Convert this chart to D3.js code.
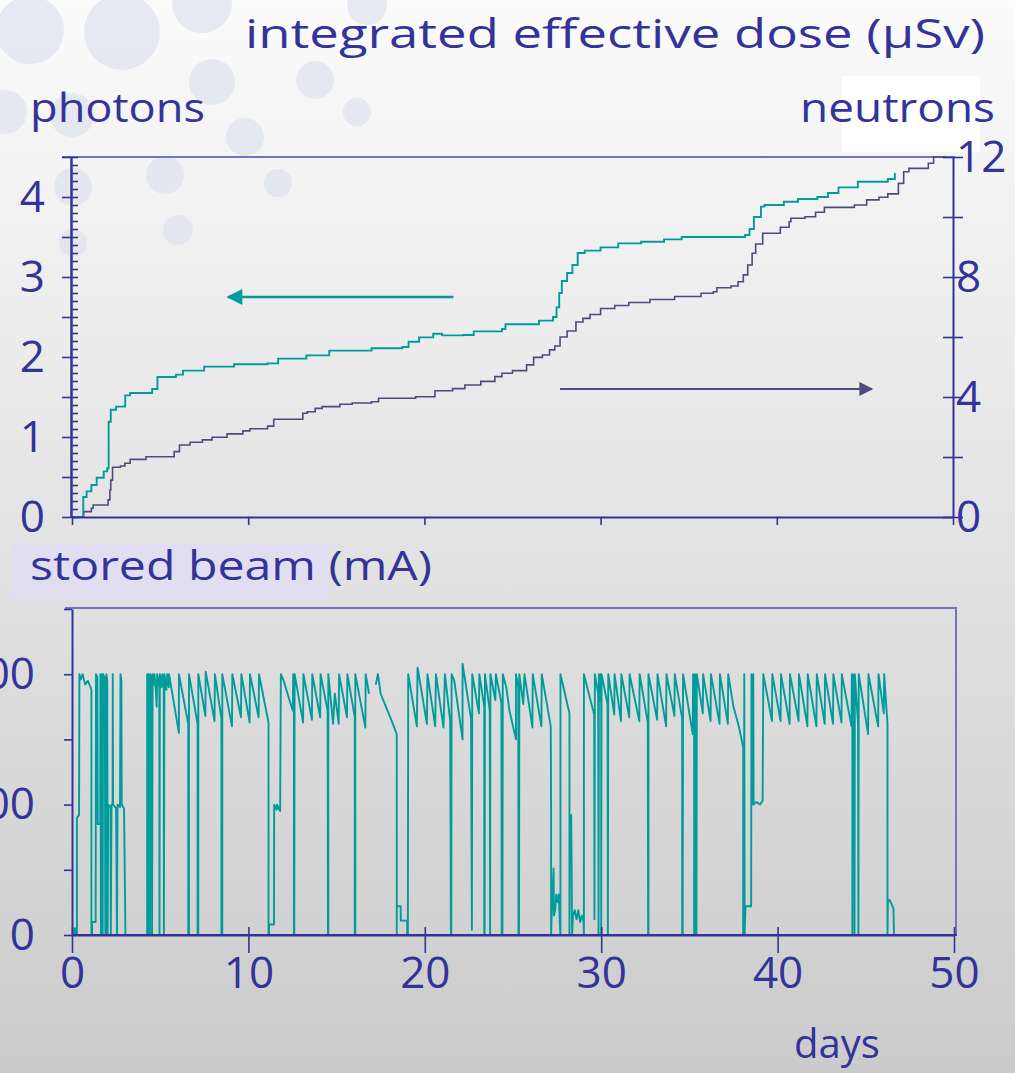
<!DOCTYPE html>
<html><head><meta charset="utf-8">
<script src="https://cdn.jsdelivr.net/npm/d3@7"></script>
<style>
html,body{margin:0;padding:0;background:#fff;}
svg{display:block;}
text{font-family:"Comic Sans MS","Open Sans","DejaVu Sans",sans-serif;fill:#333399;}
</style></head>
<body><svg id="c" width="1015" height="1073"></svg>
<script>
// ---------- data ----------
const dayTicks = [0,10,20,30,40,50];
const photonTicks = [0,1,2,3,4];
const neutronTicks = [0,4,8,12];
const beamTicks = [0,100,200];

// integrated photon dose (uSv) vs day
const photonDose = [[0,0],[0.57,0],[0.64,0.25],[0.83,0.32],[1.1,0.4],[1.4,0.49],[1.8,0.57],[2.0,0.61],[2.08,1.19],[2.2,1.34],[2.5,1.38],[3.0,1.39],[3.02,1.52],[3.3,1.55],[4.5,1.55],[4.55,1.6],[4.8,1.6],[4.85,1.75],[5.9,1.78],[6.3,1.83],[7.5,1.88],[9.2,1.91],[11.1,1.92],[11.7,1.98],[13.3,2.02],[14.6,2.08],[17.0,2.11],[18.75,2.125],[19.1,2.19],[19.7,2.245],[20.5,2.29],[21.0,2.27],[22.2,2.275],[22.8,2.32],[24.4,2.35],[24.6,2.41],[26.5,2.455],[27.3,2.5],[27.5,2.62],[27.65,2.8],[27.8,2.95],[28.1,3.05],[28.4,3.15],[28.7,3.3],[29.1,3.33],[30.0,3.37],[31.0,3.42],[32.3,3.44],[33.6,3.47],[34.6,3.5],[38.2,3.525],[38.45,3.6],[38.7,3.75],[39.1,3.88],[39.3,3.9],[40.4,3.94],[41.2,3.975],[42.3,4.0],[42.9,4.05],[43.5,4.12],[44.6,4.19],[45.5,4.19],[46.3,4.225],[46.7,4.30]];

// integrated neutron dose (uSv) vs day
const neutronDose = [[0,0],[0.38,0],[0.66,0.18],[1.1,0.29],[1.2,0.4],[2.05,0.57],[2.15,0.9],[2.2,1.23],[2.3,1.66],[2.75,1.7],[3.0,1.79],[3.3,1.92],[4.2,2.01],[5.8,2.18],[6.1,2.4],[6.7,2.49],[7.4,2.57],[7.95,2.66],[8.8,2.77],[9.7,2.87],[10.1,2.94],[11.1,3.03],[11.45,3.26],[13.1,3.46],[13.35,3.51],[13.8,3.62],[14.2,3.68],[15.2,3.76],[15.9,3.8],[17.0,3.84],[17.4,3.96],[19.5,4.01],[20.6,4.21],[21.6,4.28],[22.3,4.4],[23.2,4.52],[24.0,4.68],[24.4,4.79],[25.0,4.88],[25.8,5.07],[26.2,5.32],[26.7,5.4],[27.1,5.57],[27.4,5.7],[27.7,6.0],[28.1,6.2],[28.6,6.5],[29.0,6.62],[29.4,6.75],[30.0,6.95],[30.8,7.05],[31.6,7.15],[32.8,7.25],[34.2,7.35],[35.7,7.46],[36.4,7.51],[36.6,7.64],[37.4,7.7],[37.8,7.84],[38.1,8.07],[38.35,8.4],[38.6,8.79],[38.8,9.1],[39.2,9.46],[40.2,9.66],[40.7,9.84],[40.8,9.96],[41.6,10.01],[42.2,10.16],[42.7,10.32],[44.4,10.4],[45.1,10.57],[45.8,10.66],[46.3,10.77],[46.9,11.12],[47.2,11.51],[47.5,11.62],[48.6,11.79],[48.9,12.0],[49.5,12.1]];

// stored beam current (mA) vs day; null = no data
const beamCurrent = [[0,0],[0.15,0],[0.15,5],[0.2,5],[0.2,0],[0.28,0],[0.28,90],[0.4,92],[0.42,200],[0.5,196],[0.6,200],[0.75,192],[0.9,195],[1.05,190],[1.1,188],[1.1,0],[1.14,0],[1.14,10],[1.34,10],[1.36,200],[1.44,198],[1.46,85],[1.6,85],[1.61,200],[1.64,0],[1.68,200],[1.72,198],[1.74,0],[1.76,200],[1.86,197],[1.89,0],[1.93,0],[1.95,200],[2.0,195],[2.02,0],[2.05,100],[2.18,98],[2.2,0],[2.24,100],[2.3,100],[2.31,200],[2.33,100],[2.5,97],[2.55,0],[2.58,100],[2.72,98],[2.75,200],[2.8,195],[2.82,100],[2.95,97],[3.03,0],
[4.26,0],[4.26,200],[4.3,196],[4.3,0],[4.34,0],[4.34,200],[4.4,198],[4.42,0],[4.45,200],[4.52,195],[4.54,0],[4.57,200],[4.65,192],[4.68,200],[4.75,188],[4.8,175],[4.83,200],[4.95,190],[4.96,0],[4.98,200],[5.08,190],[5.12,200],[5.2,190],[5.21,0],[5.24,200],[5.35,188],[5.4,200],[5.49,190],[5.5,200],[6.06,155],
[6.06,200],[6.59,162],[6.59,0],[6.63,0],[6.63,200],[7.12,162],[7.12,0],[7.16,0],[7.16,200],[7.56,168],[7.58,202],[8.08,164],[8.1,200],[8.47,166],[8.47,0],[8.52,0],[8.52,200],[9.07,160],[9.09,200],[9.58,167],[9.6,200],[10.07,163],[10.09,200],[10.58,167],[10.6,200],[11.14,163],[11.14,0],[11.17,0],[11.17,8],[11.45,8],[11.46,100],[11.6,96],[11.62,100],[11.8,95],[11.84,200],[12.0,195],[12.4,177],[12.52,172],[12.54,200],[12.58,198],[12.58,0],[12.6,0],[12.62,200],[13.1,163],[13.12,200],[13.6,165],[13.62,200],[14.07,167],[14.09,200],[14.49,172],[14.51,0],[14.53,0],[14.53,200],[14.8,162],[14.9,185],[15.12,162],[15.14,200],[15.59,167],[15.61,200],[16.03,167],[16.03,0],[16.06,0],[16.06,200],[16.63,159],[16.65,200],[16.84,185],null,
[17.22,192],[17.34,200],[17.5,185],[17.8,175],[18.1,165],[18.41,154],[18.41,0],[18.41,22],[18.63,22],[18.64,11],[19.0,11],[19.0,0],[19.04,0],[19.06,200],[19.55,160],[19.59,205],[20.12,162],[20.15,200],[20.59,160],[20.63,200],[21.06,159],[21.14,200],[21.44,164],[21.48,0],[21.5,0],[21.52,200],[21.67,195],[22.14,150],[22.14,208],[22.62,166],[22.67,4],[22.69,200],[23.07,170],[23.09,200],[23.37,175],[23.37,0],[23.39,0],[23.41,200],[23.68,172],[23.7,0],[23.72,200],[24.0,180],[24.03,200],[24.34,178],[24.36,0],[24.4,0],[24.42,200],[24.62,190],[24.8,172],[25.17,150],[25.17,200],[25.3,190],[25.31,0],[25.34,0],[25.36,200],[25.58,177],[25.65,200],[26.1,159],[26.12,200],[26.61,160],[26.63,200],[27.14,160],[27.16,95],[27.16,0],[27.2,18],[27.3,51],[27.32,15],[27.4,20],[27.45,31],[27.55,25],[27.6,31],[27.65,10],[27.69,0],[27.69,200],[28.2,170],[28.2,0],[28.22,92],[28.27,67],[28.3,92],[28.35,0],[28.4,15],[28.5,19],[28.6,12],[28.7,19],[28.8,10],[28.9,15],[29.0,10],[29.02,0],[29.02,200],[29.6,169],[29.62,12],[29.64,200],[29.83,185],[29.85,0],[29.87,200],[29.95,179],[29.97,200],[30.0,198],[30.0,0],[30.02,200],[30.36,177],[30.38,0],[30.4,200],[30.74,169],[30.76,200],[31.12,164],[31.14,200],[31.59,167],[31.61,200],[32.16,164],[32.18,200],[32.64,163],[32.66,0],[32.68,0],[32.68,200],[33.17,165],[33.19,200],[33.68,160],[33.7,200],[34.15,168],[34.17,200],[34.59,166],[34.59,0],[34.62,0],[34.64,200],[35.19,154],[35.21,200],[35.27,195],[35.27,0],[35.3,0],[35.32,200],[35.4,192],[35.4,0],[35.42,200],[35.76,170],[35.78,200],[36.2,164],[36.22,200],[36.71,162],[36.73,200],[37.18,162],[37.2,200],[37.5,175],[37.8,160],[38.05,144],[38.05,0],[38.09,0],[38.11,200],[38.13,0],[38.18,22],[38.5,22],[38.52,200],[38.54,100],[38.6,103],[38.62,200],[38.64,100],[38.8,102],[39.0,100],[39.15,103],[39.19,200],[39.68,164],[39.7,200],[40.17,164],[40.19,200],[40.68,162],[40.7,200],[41.19,164],[41.21,200],[41.69,160],[41.71,200],[42.2,160],[42.22,200],[42.67,162],[42.69,200],[43.14,162],[43.16,200],[43.62,163],[43.64,200],[44.19,160],[44.21,200],[44.24,198],[44.24,0],[44.26,200],[44.34,195],[44.36,0],[44.38,200],[44.56,162],[44.58,0],[44.6,200],[45.13,154],[45.15,200],[45.7,160],[45.72,200],[46.02,170],[46.04,200],[46.23,162],[46.23,0],[46.25,25],[46.35,27],[46.45,24],[46.57,20],[46.6,0]];

// ---------- drawing ----------
const svg = d3.select('#c');
const W = 1015, H = 1073;
const AX = '#33339a', AXL = '#7474c0', TEAL = '#009b9b', NEU = '#4c4c7c';
const FONT = '"Comic Sans MS","Open Sans",sans-serif';

const defs = svg.append('defs');
const grad = defs.append('linearGradient').attr('id','bg').attr('x1',0).attr('y1',0).attr('x2',0).attr('y2',1);
grad.append('stop').attr('offset','0%').attr('stop-color','#fbfbfb');
grad.append('stop').attr('offset','100%').attr('stop-color','#cbcbcb');
svg.append('rect').attr('width',W).attr('height',H).attr('fill','url(#bg)');

// decorative bubbles
const bubbles = [[30,30,34],[122,32,38],[202,3,30],[212,82,23],[315,80,19],[357,112,14],[245,137,19],[5,112,22],[72,115,22],[165,175,19],[278,183,14],[73,187,19],[178,230,15],[73,243,14],[367,5,20]];
svg.append('g').selectAll('circle').data(bubbles).join('circle')
  .attr('cx',d=>d[0]).attr('cy',d=>d[1]).attr('r',d=>d[2]).attr('fill','#dfe3ec').attr('opacity',0.75);

const x = d3.scaleLinear().domain([0,50]).range([72,953]);
const yP = d3.scaleLinear().domain([0,4.5]).range([517,157]);
const yN = d3.scaleLinear().domain([0,12]).range([517,157]);
const yB = d3.scaleLinear().domain([0,250]).range([935,609]);
const xB = d3.scaleLinear().domain([0,50]).range([72,954]);

// texts
svg.append('rect').attr('x',842).attr('y',76).attr('width',138).attr('height',76).attr('fill','#ffffff');
svg.append('rect').attr('x',12).attr('y',543).attr('width',317).attr('height',56).attr('fill','#e1def2');
function label(t,xx,yy,size,anchor){return svg.append('text').attr('x',xx).attr('y',yy).attr('font-size',size).attr('text-anchor',anchor||'start').text(t);}
label('integrated effective dose (\u03bcSv)',245,48,40).attr('textLength',740).attr('lengthAdjust','spacingAndGlyphs');
label('photons',30,122,40).attr('textLength',175).attr('lengthAdjust','spacingAndGlyphs');
label('neutrons',800,122,40).attr('textLength',195).attr('lengthAdjust','spacingAndGlyphs');
label('stored beam (mA)',30,580,40).attr('textLength',402).attr('lengthAdjust','spacingAndGlyphs');
label('days',837,1058,40,'middle');

// ---------- top panel ----------
const topG = svg.append('g');
defs.append('clipPath').attr('id','clipT').append('rect').attr('x',72).attr('y',156).attr('width',882).attr('height',362);
topG.append('line').attr('x1',62).attr('x2',955).attr('y1',157).attr('y2',157).attr('stroke',AXL).attr('stroke-width',2);

const lineP = d3.line().x(d=>x(d[0])).y(d=>yP(d[1])).curve(d3.curveStepAfter);
const lineN = d3.line().x(d=>x(d[0])).y(d=>yN(d[1])).curve(d3.curveStepAfter);
topG.append('path').attr('d',lineN(neutronDose)).attr('fill','none').attr('stroke',NEU).attr('stroke-width',1.6).attr('clip-path','url(#clipT)');
topG.append('path').attr('d',lineP(photonDose)).attr('fill','none').attr('stroke',TEAL).attr('stroke-width',1.9).attr('clip-path','url(#clipT)');

function styleAxis(sel,col,w){sel.select('.domain').attr('stroke',col).attr('stroke-width',w);sel.selectAll('.tick line').attr('stroke',col).attr('stroke-width',1.6);}
function styleLabels(sel){sel.select('.domain').remove(); sel.selectAll('text').attr('font-size',44).attr('font-family',FONT).attr('fill','#333399');}

const minorVals = d3.range(0,46).map(i=>i/10);
const majorVals = d3.range(0,10).map(i=>i/2);
let a = topG.append('g').attr('transform','translate(71,0)').call(d3.axisRight(yP).tickValues(minorVals).tickSize(7).tickFormat('').tickSizeOuter(0));
styleAxis(a,AX,2);
a = topG.append('g').attr('transform','translate(71,0)').call(d3.axisLeft(yP).tickValues(majorVals).tickSize(9).tickFormat('').tickSizeOuter(0));
styleAxis(a,AX,2);
a = topG.append('g').attr('transform','translate(71,0)').call(d3.axisLeft(yP).tickValues(photonTicks).tickSize(0).tickPadding(26).tickFormat(d3.format('d')));
styleLabels(a);

const nTickVals = d3.range(0,13,2);
a = topG.append('g').attr('transform','translate(953,0)').call(d3.axisRight(yN).tickValues(nTickVals).tickSize(10).tickFormat('').tickSizeOuter(0));
styleAxis(a,AX,2);
a = topG.append('g').attr('transform','translate(953,0)').call(d3.axisLeft(yN).tickValues(nTickVals).tickSize(10).tickFormat('').tickSizeOuter(0));
a.select('.domain').remove(); styleAxis(a,AX,2);
a = topG.append('g').attr('transform','translate(953,0)').call(d3.axisRight(yN).tickValues(neutronTicks).tickSize(0).tickPadding(3).tickFormat(d3.format('d')));
styleLabels(a);

a = topG.append('g').attr('transform','translate(0,517)').call(d3.axisBottom(x).tickValues(dayTicks).tickSize(8).tickFormat('').tickSizeOuter(0));
styleAxis(a,AX,2);

// arrows (markers point along the line direction)
defs.append('marker').attr('id','ahT').attr('viewBox','0 0 10 10').attr('refX',9).attr('refY',5).attr('markerWidth',18).attr('markerHeight',16).attr('markerUnits','userSpaceOnUse').attr('orient','auto')
  .append('path').attr('d','M0,0 L10,5 L0,10 Z').attr('fill',TEAL);
defs.append('marker').attr('id','ahN').attr('viewBox','0 0 10 10').attr('refX',9).attr('refY',5).attr('markerWidth',16).attr('markerHeight',14).attr('markerUnits','userSpaceOnUse').attr('orient','auto')
  .append('path').attr('d','M0,0 L10,5 L0,10 Z').attr('fill',NEU);
const arrowP = {from:[21.65,2.75], to:[8.85,2.75]};
const arrowN = {from:[27.7,4.27], to:[45.4,4.27]};
topG.append('line').attr('x1',x(arrowP.from[0])).attr('y1',yP(arrowP.from[1])).attr('x2',x(arrowP.to[0])).attr('y2',yP(arrowP.to[1]))
  .attr('stroke',TEAL).attr('stroke-width',2.5).attr('marker-end','url(#ahT)');
topG.append('line').attr('x1',x(arrowN.from[0])).attr('y1',yN(arrowN.from[1])).attr('x2',x(arrowN.to[0])).attr('y2',yN(arrowN.to[1]))
  .attr('stroke',NEU).attr('stroke-width',2).attr('marker-end','url(#ahN)');

// ---------- bottom panel ----------
const bot = svg.append('g');
bot.append('line').attr('x1',65).attr('x2',957).attr('y1',608).attr('y2',608).attr('stroke',AXL).attr('stroke-width',2);
bot.append('line').attr('x1',956).attr('x2',956).attr('y1',608).attr('y2',935).attr('stroke',AXL).attr('stroke-width',2);

const lineB = d3.line().defined(d=>d!==null).x(d=>xB(d[0])).y(d=>yB(d[1]));
bot.append('path').attr('d',lineB(beamCurrent)).attr('fill','none').attr('stroke',TEAL).attr('stroke-width',1.9).attr('stroke-linejoin','round');

a = bot.append('g').attr('transform','translate(72,0)').call(d3.axisLeft(yB).tickValues([0,50,100,150,200,250]).tickSize(8).tickFormat('').tickSizeOuter(0));
styleAxis(a,AX,2);
a = bot.append('g').attr('transform','translate(72,0)').call(d3.axisLeft(yB).tickValues(beamTicks).tickSize(0).tickPadding(37).tickFormat(d3.format('d')));
styleLabels(a);

a = bot.append('g').attr('transform','translate(0,935)').call(d3.axisBottom(xB).tickValues(dayTicks).tickSize(18).tickFormat('').tickSizeOuter(0));
styleAxis(a,AX,2);
a.selectAll('.tick line').attr('y1',-8);
bot.append('line').attr('x1',72).attr('x2',957).attr('y1',935).attr('y2',935).attr('stroke',AX).attr('stroke-width',2);
a = bot.append('g').attr('transform','translate(0,935)').call(d3.axisBottom(xB).tickValues(dayTicks).tickSize(0).tickPadding(22).tickFormat(d3.format('d')));
styleLabels(a);
</script></body></html>
